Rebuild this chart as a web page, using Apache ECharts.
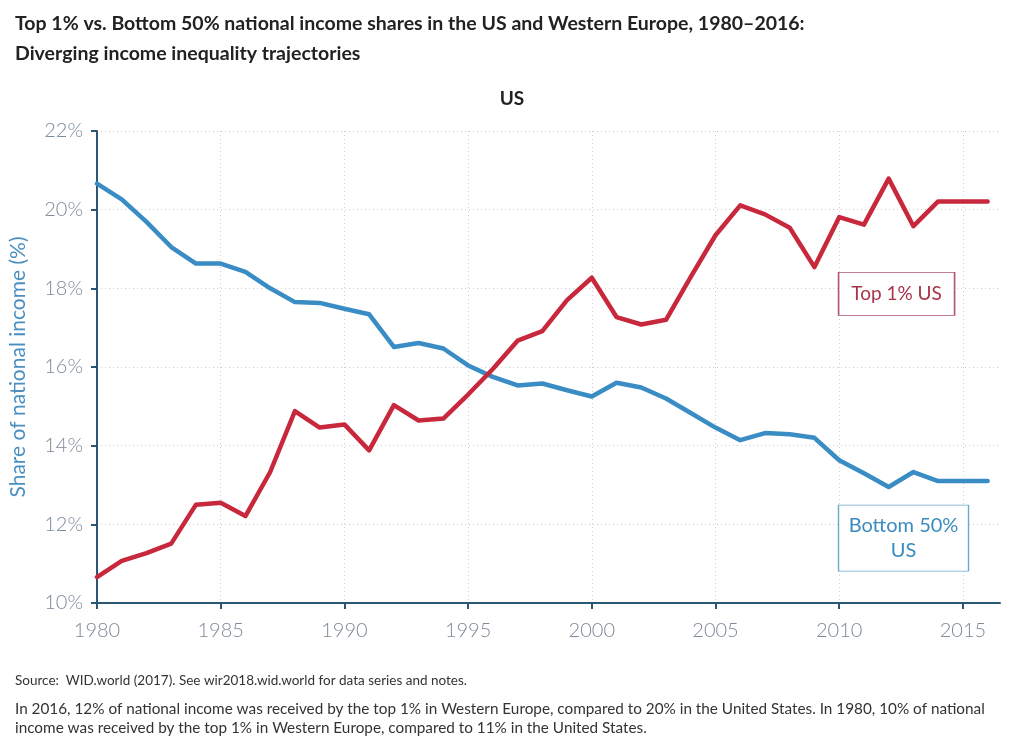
<!DOCTYPE html>
<html>
<head>
<meta charset="utf-8">
<script src="https://cdn.jsdelivr.net/npm/echarts@6/dist/echarts.min.js"></script>
<style>html,body{margin:0;padding:0;background:#fff}#c{width:1024px;height:742px}</style>
</head>
<body>
<div id="c"></div>
<script>
const years = [1980,1981,1982,1983,1984,1985,1986,1987,1988,1989,1990,1991,1992,1993,1994,1995,1996,1997,1998,1999,2000,2001,2002,2003,2004,2005,2006,2007,2008,2009,2010,2011,2012,2013,2014,2015,2016];
const top1US = [10.66,11.07,11.27,11.51,12.50,12.55,12.21,13.33,14.88,14.46,14.54,13.88,15.03,14.64,14.69,15.30,15.95,16.67,16.91,17.70,18.27,17.27,17.08,17.20,18.29,19.35,20.11,19.88,19.54,18.54,19.81,19.62,20.79,19.58,20.21,20.21,20.21];
const bottom50US = [20.66,20.26,19.69,19.05,18.63,18.63,18.42,18.00,17.65,17.63,17.48,17.34,16.51,16.61,16.47,16.04,15.75,15.53,15.58,15.41,15.25,15.60,15.48,15.20,14.83,14.46,14.14,14.32,14.29,14.20,13.63,13.30,12.95,13.33,13.10,13.10,13.10];
const xTicks = [1980,1985,1990,1995,2000,2005,2010,2015];
const yTicks = [10,12,14,16,18,20,22];
const labelTop = {name:'Top 1% US', coord:[2012.32,17.86]};
const labelBottom = {name:'Bottom 50%\nUS', coord:[2012.6,11.65]};

const chart = echarts.init(document.getElementById('c'), null, {renderer:'canvas'});
const zip = a => years.map((y,i)=>[y,a[i]]);
chart.setOption({
  animation:false,
  backgroundColor:'#fff',
  title:[
    {text:'Top 1% vs. Bottom 50% national income shares in the US and Western Europe, 1980–2016:\nDiverging income inequality trajectories',
     left:10, top:4, textStyle:{fontFamily:'Lato', fontWeight:'bold', fontSize:19.5, color:'#222', lineHeight:30}},
    {text:'US', left:'center', top:84, textStyle:{fontFamily:'Lato', fontWeight:'bold', fontSize:19, color:'#222'}},
    {text:'Source:  WID.world (2017). See wir2018.wid.world for data series and notes.', left:10, top:669,
     textStyle:{fontFamily:'Lato', fontWeight:'normal', fontSize:13.5, color:'#333'}},
    {text:'In 2016, 12% of national income was received by the top 1% in Western Europe, compared to 20% in the United States. In 1980, 10% of national\nincome was received by the top 1% in Western Europe, compared to 11% in the United States.', left:10, top:695,
     textStyle:{fontFamily:'Lato', fontWeight:'normal', fontSize:15.3, color:'#333', lineHeight:19}}
  ],
  grid:{left:97, right:24, top:131, bottom:139},
  xAxis:{type:'value', min:1980, max:2016.5, interval:5,
    axisLine:{show:true, lineStyle:{color:'#2b5676', width:2}},
    axisTick:{show:true, length:6, lineStyle:{color:'#2b5676', width:2}, customValues:xTicks},
    axisLabel:{customValues:xTicks, formatter:v=>String(v), fontFamily:'Lato', fontWeight:300, fontSize:20, color:'#7d8a97', margin:18},
    splitLine:{show:true, lineStyle:{color:'#cfcfcf', type:[1,3], width:1}}
  },
  yAxis:{type:'value', min:10, max:22, interval:2,
    name:'Share of national income (%)', nameLocation:'middle', nameGap:68,
    nameTextStyle:{fontFamily:'Lato', fontSize:21, color:'#4a8fc0'},
    axisLine:{show:true, lineStyle:{color:'#2b5676', width:2}},
    axisTick:{show:true, length:6, lineStyle:{color:'#2b5676', width:2}},
    axisLabel:{fontFamily:'Lato', fontWeight:300, fontSize:20, color:'#7d8a97', margin:14, formatter:v=>v+'%'},
    splitLine:{show:true, lineStyle:{color:'#cfcfcf', type:[1,3], width:1}}
  },
  series:[
    {type:'line', name:'Bottom 50% US', data:zip(bottom50US), showSymbol:false, lineStyle:{color:'#3a8cc4', width:4.5, cap:'round', join:'round'}, itemStyle:{color:'#3a8cc4'},
     markPoint:{symbol:'rect', symbolSize:[130,66], silent:true,
       itemStyle:{color:'#fff', borderColor:'#6ea9c9', borderWidth:1},
       label:{show:true, position:'inside', formatter:labelBottom.name, fontFamily:'Lato', fontSize:20, color:'#3a8cc0', lineHeight:25},
       data:[{coord:labelBottom.coord}]}},
    {type:'line', name:'Top 1% US', data:zip(top1US), showSymbol:false, lineStyle:{color:'#c8283c', width:4.5, cap:'round', join:'round'}, itemStyle:{color:'#c8283c'},
     markPoint:{symbol:'rect', symbolSize:[116,43], silent:true,
       itemStyle:{color:'#fff', borderColor:'#b0566f', borderWidth:1},
       label:{show:true, position:'inside', formatter:labelTop.name, fontFamily:'Lato', fontSize:19, color:'#a8334a'},
       data:[{coord:labelTop.coord}]}}
  ]
});
</script>
</body>
</html>
